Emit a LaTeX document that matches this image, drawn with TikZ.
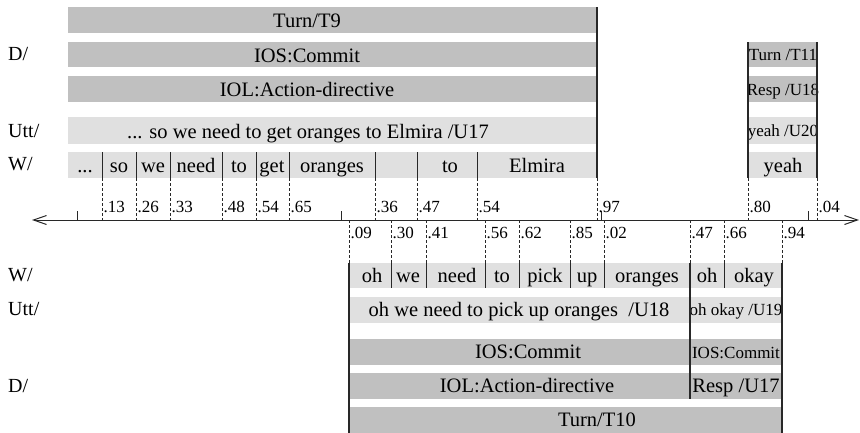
\documentclass[tikz,border=0pt]{standalone}
\usepackage{fontspec}
\setmainfont{Liberation Serif}
\usetikzlibrary{arrows.meta}
\definecolor{barDark}{RGB}{192,192,192}
\definecolor{barLight}{RGB}{224,224,224}
\definecolor{lineCol}{RGB}{40,40,40}
\newcommand\mkbar[6]{\node[#6, minimum width={(#4-#2)*1pt}, minimum height={(#5-#3)*1pt}] (#1) at (#2,#3) {};}
\tikzset{
  barbase/.style={inner sep=0pt, outer sep=0pt, anchor=north west, draw=none},
  dk/.style={barbase, fill=barDark},
  lt/.style={barbase, fill=barLight},
  big/.style={inner sep=0pt, anchor=base, font=\fontsize{20.5}{24}\selectfont},
  sml/.style={inner sep=0pt, anchor=base, font=\fontsize{17}{20}\selectfont},
  lbl/.style={inner sep=0pt, anchor=base west, font=\fontsize{20}{24}\selectfont},
  num/.style={inner sep=0pt, anchor=base west, font=\fontsize{17}{20}\selectfont},
  vline/.style={draw=lineCol, line width=1.3pt},
  sep/.style={draw=lineCol, line width=1pt},
  dline/.style={draw=lineCol, line width=0.7pt, dash pattern=on 3pt off 2pt},
  axis/.style={draw=lineCol, line width=1pt, {Straight Barb[length=13pt,width=9pt]}-{Straight Barb[length=13pt,width=9pt]}},
}
\begin{document}
\begin{tikzpicture}[x=1pt,y=-1pt]
\useasboundingbox (0,0) rectangle (860,432);

% ---------- top section bars ----------
\mkbar{t9}{68}{7}{597}{33}{dk}
\mkbar{ios1}{68}{42}{597}{67}{dk}
\mkbar{iol1}{68}{76}{597}{102}{dk}
\mkbar{utt1}{68}{117}{597}{144}{lt}
\mkbar{w1}{68}{152}{597}{178}{lt}
\mkbar{t11}{748}{42}{817}{67}{dk}
\mkbar{resp18}{748}{76}{817}{102}{dk}
\mkbar{utt20}{748}{117}{817}{144}{lt}
\mkbar{w20}{748}{152}{817}{178}{lt}

% ---------- bottom section bars ----------
\mkbar{w2}{349}{263}{782}{288}{lt}
\mkbar{utt2}{349}{297}{782}{323}{lt}
\mkbar{ios2}{349}{339}{782}{365}{dk}
\mkbar{iol2}{349}{373}{782}{399}{dk}
\mkbar{t10}{349}{407}{782}{433}{dk}

% ---------- row labels ----------
\node[lbl] (lD1) at (8,60) {D/};
\node[lbl] (lU1) at (8,137) {Utt/};
\node[lbl] (lW1) at (8,170) {W/};
\node[lbl] (lW2) at (8,281) {W/};
\node[lbl] (lU2) at (8,315) {Utt/};
\node[lbl] (lD2) at (8,392) {D/};

% ---------- top texts ----------
\node[big] (tx1) at (307,27) {Turn/T9};
\node[big] (tx2) at (307,62) {IOS:Commit};
\node[big] (tx3) at (307,96) {IOL:Action-directive};
\node[big] (tx4) at (308,138) {... so we need to get oranges to Elmira /U17};
\node[sml] (tx5) at (783,60) {Turn /T11};
\node[sml] (tx6) at (783,95) {Resp /U18};
\node[sml] (tx7) at (783,136) {yeah /U20};
\node[big] (tx8) at (783,172) {yeah};

% top words
\node[big] (wa) at (85,172) {...};
\node[big] (wb) at (119,172) {so};
\node[big] (wc) at (153,172) {we};
\node[big] (wd) at (196,172) {need};
\node[big] (we) at (239,172) {to};
\node[big] (wf) at (272,172) {get};
\node[big] (wg) at (332,172) {oranges};
\node[big] (wh) at (450,172) {to};
\node[big] (wi) at (537,172) {Elmira};

% ---------- bottom texts ----------
\node[big] (bw1) at (372,282) {oh};
\node[big] (bw2) at (408,282) {we};
\node[big] (bw3) at (457,282) {need};
\node[big] (bw4) at (502,282) {to};
\node[big] (bw5) at (545,282) {pick};
\node[big] (bw6) at (587,282) {up};
\node[big] (bw7) at (647,282) {oranges};
\node[big] (bw8) at (707,282) {oh};
\node[big] (bw9) at (754,282) {okay};
\node[big] (bu1) at (519,316) {oh we need to pick up oranges~ /U18};
\node[sml] (bu2) at (736,315) {oh okay /U19};
\node[big] (bi1) at (528,358) {IOS:Commit};
\node[sml] (bi2) at (736,358) {IOS:Commit};
\node[big] (bl1) at (527,392) {IOL:Action-directive};
\node[big] (bl2) at (736,392) {Resp /U17};
\node[big] (bt1) at (597,426) {Turn/T10};

% ---------- solid vertical lines ----------
\draw[vline] (t9.north east) -- (w1.south east);
\draw[vline] (t11.north west) -- (w20.south west);
\draw[vline] (t11.north east) -- (w20.south east);
\draw[vline] (w2.north west) -- (t10.south west);
\draw[vline] (w2.north east) -- (t10.south east);
\draw[vline] (690,263) coordinate (s69a) -- (690,399) coordinate (s69b);

\foreach \x in {102,136,170,222,256,289,375,417,477}
  \draw[sep] (\x,152) -- (\x,178);
\foreach \x in {391,426,485,519,570,604,724}
  \draw[sep] (\x,263) -- (\x,288);

% ---------- dashed lines ----------
\foreach \x in {102,136,170,222,256,289,375,417,477,597,748,817}
  \draw[dline] (\x,178) -- (\x,220);
\foreach \x in {349,391,426,485,519,570,604,690,724,782}
  \draw[dline] (\x,220) -- (\x,263);

% ---------- time axis ----------
\coordinate (axL) at (32,220);
\coordinate (axR) at (859,220);
\draw[axis] (axL) -- (axR);
\foreach \x in {77,341,601,808}
  \draw[draw=lineCol, line width=1pt] (\x,211) -- (\x,220);

% ---------- time labels ----------
\foreach \x/\t in {102/.13,136/.26,170/.33,222/.48,256/.54,289/.65,375/.36,417/.47,477/.54,597/.97,748/.80,817/.04}
  \node[num] at (\x+1.5,212) {\t};
\foreach \x/\t in {349/.09,391/.30,426/.41,485/.56,519/.62,570/.85,604/.02,690/.47,724/.66,782/.94}
  \node[num] at (\x+1.5,238) {\t};
\end{tikzpicture}
\end{document}
